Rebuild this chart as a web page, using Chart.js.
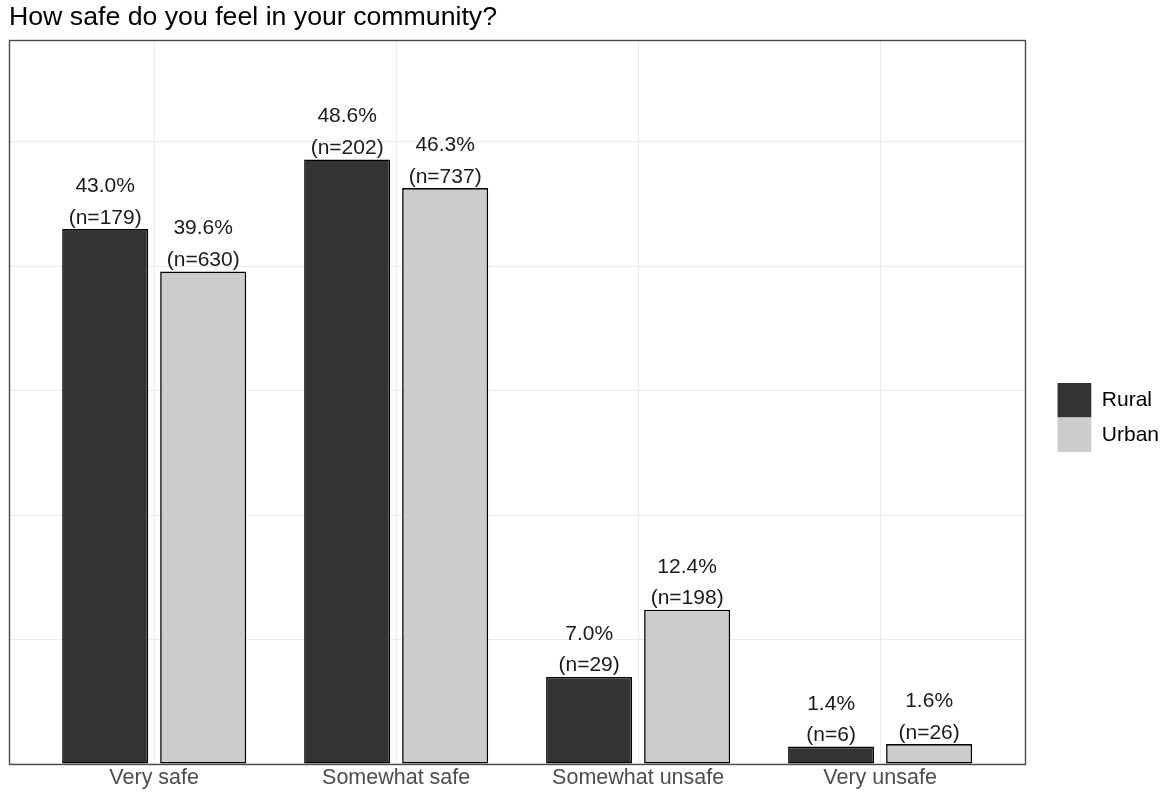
<!DOCTYPE html>
<html>
<head>
<meta charset="utf-8">
<title>Community safety</title>
<script src="https://cdn.jsdelivr.net/npm/chart.js@4/dist/chart.umd.min.js"></script>
<style>
  html, body { margin: 0; padding: 0; background: #ffffff; }
  #wrap { width: 1170px; height: 793px; }
</style>
</head>
<body>
<div id="wrap"><canvas id="chart" width="1170" height="793"></canvas></div>
<script>
// Survey answers, rural vs urban respondents
const categories = ['Very safe', 'Somewhat safe', 'Somewhat unsafe', 'Very unsafe'];
const ruralPct = [43.0, 48.6, 7.0, 1.4];
const urbanPct = [39.6, 46.3, 12.4, 1.6];
const ruralN = [179, 202, 29, 6];
const urbanN = [630, 737, 198, 26];
const seriesNames = ['Rural', 'Urban'];

const FONT = '"Liberation Sans", Arial, Helvetica, sans-serif';

// categories sit at x = 1..4 on a linear axis so the outer padding can be set freely
const toPoints = vals => vals.map((v, i) => ({ x: i + 1, y: v }));
const counts = [ruralN, urbanN];

// two-line value labels above each bar
const barLabels = {
  id: 'barLabels',
  afterDatasetsDraw(chart) {
    const ctx = chart.ctx;
    ctx.save();
    ctx.font = '21px ' + FONT;
    ctx.fillStyle = '#1a1a1a';
    ctx.textAlign = 'center';
    ctx.textBaseline = 'alphabetic';
    chart.data.datasets.forEach((ds, di) => {
      const meta = chart.getDatasetMeta(di);
      meta.data.forEach((bar, i) => {
        const v = ds.data[i].y;
        ctx.fillText(v.toFixed(1) + '%', bar.x, bar.y - 37);
        ctx.fillText('(n=' + counts[di][i] + ')', bar.x, bar.y - 5.5);
      });
    });
    ctx.restore();
  }
};

// frame around the plotting panel
const panelBorder = {
  id: 'panelBorder',
  afterDraw(chart) {
    const a = chart.chartArea;
    const ctx = chart.ctx;
    ctx.save();
    ctx.strokeStyle = '#4a4a4a';
    ctx.lineWidth = 1.4;
    ctx.strokeRect(Math.round(a.left) + 0.5, Math.round(a.top) + 0.5,
                   Math.round(a.right - a.left), Math.round(a.bottom - a.top));
    ctx.restore();
  }
};

new Chart(document.getElementById('chart'), {
  type: 'bar',
  data: {
    datasets: [
      {
        label: seriesNames[0],
        data: toPoints(ruralPct),
        backgroundColor: '#333333',
        borderColor: '#000000',
        borderWidth: 1.6,
        borderSkipped: false,
        categoryPercentage: 0.81,
        barPercentage: 0.878
      },
      {
        label: seriesNames[1],
        data: toPoints(urbanPct),
        backgroundColor: '#cccccc',
        borderColor: '#000000',
        borderWidth: 1.6,
        borderSkipped: false,
        categoryPercentage: 0.81,
        barPercentage: 0.878
      }
    ]
  },
  options: {
    responsive: false,
    animation: false,
    devicePixelRatio: 1,
    layout: { padding: { left: 9, right: 1, top: 0, bottom: 0 } },
    scales: {
      x: {
        type: 'linear',
        min: 0.4,
        max: 4.6,
        offset: false,
        grid: { color: '#ebebeb', lineWidth: 1.1, drawTicks: false, offset: false },
        border: { display: false },
        ticks: {
          stepSize: 1,
          includeBounds: false,
          autoSkip: false,
          maxRotation: 0,
          padding: 3.2,
          color: '#4d4d4d',
          font: { family: FONT, size: 21.5, lineHeight: 1.05 },
          callback: v => (Number.isInteger(v) ? categories[v - 1] : '')
        }
      },
      y: {
        type: 'linear',
        position: 'right',
        min: 0,
        max: 58.2,
        grid: { color: '#ebebeb', lineWidth: 1.1, drawTicks: false },
        border: { display: false },
        ticks: { display: false, stepSize: 10, includeBounds: false },
        afterFit(scale) { scale.width = 32; }
      }
    },
    plugins: {
      title: {
        display: true,
        text: 'How safe do you feel in your community?',
        align: 'start',
        color: '#000000',
        font: { family: FONT, size: 26.7, weight: 'normal', lineHeight: 1.2 },
        padding: { top: 2, bottom: 6 }
      },
      legend: {
        position: 'right',
        fullSize: false,
        align: 'center',
        title: { display: true, text: '', font: { size: 10, lineHeight: 1 }, padding: { top: 0, bottom: 21 } },
        labels: {
          boxWidth: 34,
          boxHeight: 34.5,
          padding: 0,
          color: '#000000',
          font: { family: FONT, size: 21 },
          generateLabels(chart) {
            return chart.data.datasets.map((ds, i) => ({
              text: ds.label,
              fillStyle: ds.backgroundColor,
              strokeStyle: ds.backgroundColor,
              lineWidth: 0,
              fontColor: '#000000',
              hidden: false,
              datasetIndex: i
            }));
          }
        }
      },
      tooltip: { enabled: false }
    }
  },
  plugins: [barLabels, panelBorder]
});
</script>
</body>
</html>
